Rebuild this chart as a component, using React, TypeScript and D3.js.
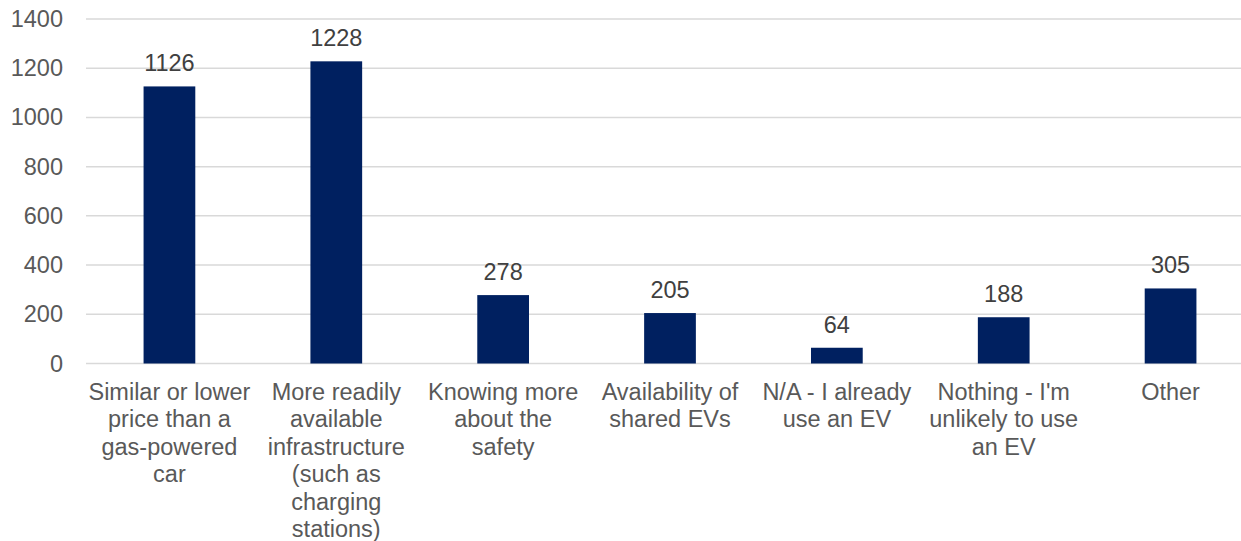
import React, { useEffect, useRef } from 'react';
import * as d3 from 'd3';

// category labels, already split into the lines shown under each bar
const categories: string[][] = [
    ['Similar or lower', 'price than a', 'gas-powered', 'car'],
    ['More readily', 'available', 'infrastructure', '(such as', 'charging', 'stations)'],
    ['Knowing more', 'about the', 'safety'],
    ['Availability of', 'shared EVs'],
    ['N/A - I already', 'use an EV'],
    ["Nothing - I'm", 'unlikely to use', 'an EV'],
    ['Other'],
];
const values = [1126, 1228, 278, 205, 64, 188, 305];
const yTicks = [0, 200, 400, 600, 800, 1000, 1200, 1400];

const App: React.FC = () => {
    const svgRef = useRef<SVGSVGElement>(null);

    useEffect(() => {
        if (!svgRef.current) return;
        const width = 1241;
        const height = 541;
        const font = '"Liberation Sans", Arial, sans-serif';

        const svg = d3.select(svgRef.current);
        svg.selectAll('*').remove();
        svg.attr('width', width).attr('height', height)
            .style('display', 'block')
            .style('position', 'absolute')
            .style('left', '0px')
            .style('top', '0px')
            .style('font-family', font);

        svg.append('rect').attr('width', width).attr('height', height).attr('fill', '#fff');

        const keys = categories.map((_, i) => String(i));
        const x = d3.scaleBand<string>().domain(keys).range([86, 1254]);
        const y = d3.scaleLinear().domain([0, 1400]).range([363.5, 19]);
        const barW = x.bandwidth() * 0.31;

        // gridlines
        svg.append('g')
            .selectAll('line')
            .data(yTicks)
            .enter()
            .append('line')
            .attr('x1', 86)
            .attr('x2', 1254)
            .attr('y1', d => y(d))
            .attr('y2', d => y(d))
            .attr('stroke', '#d9d9d9')
            .attr('stroke-width', 1.5);

        // y tick labels
        svg.append('g')
            .selectAll('text')
            .data(yTicks)
            .enter()
            .append('text')
            .attr('x', 63)
            .attr('y', d => y(d) + 8)
            .attr('text-anchor', 'end')
            .attr('font-size', '23.5px')
            .attr('fill', '#595959')
            .text(d => String(d));

        // bars
        svg.append('g')
            .selectAll('rect')
            .data(values)
            .enter()
            .append('rect')
            .attr('x', (_, i) => (x(keys[i]) as number) + x.bandwidth() / 2 - barW / 2)
            .attr('y', d => y(d))
            .attr('width', barW)
            .attr('height', d => y(0) - y(d))
            .attr('fill', '#002060');

        // value labels
        svg.append('g')
            .selectAll('text')
            .data(values)
            .enter()
            .append('text')
            .attr('x', (_, i) => (x(keys[i]) as number) + x.bandwidth() / 2)
            .attr('y', d => y(d) - 15)
            .attr('text-anchor', 'middle')
            .attr('font-size', '23.5px')
            .attr('fill', '#404040')
            .text(d => String(d));

        // category labels
        const cats = svg.append('g')
            .selectAll('text')
            .data(categories)
            .enter()
            .append('text')
            .attr('text-anchor', 'middle')
            .attr('font-size', '23.5px')
            .attr('fill', '#595959');

        cats.each(function (lines, i) {
            const cx = (x(keys[i]) as number) + x.bandwidth() / 2;
            d3.select(this)
                .selectAll('tspan')
                .data(lines)
                .enter()
                .append('tspan')
                .attr('x', cx)
                .attr('y', (_, j) => y(0) + 36 + j * 27.5)
                .text(d => d);
        });
    }, []);

    return <svg ref={svgRef}></svg>;
};

export default App;
